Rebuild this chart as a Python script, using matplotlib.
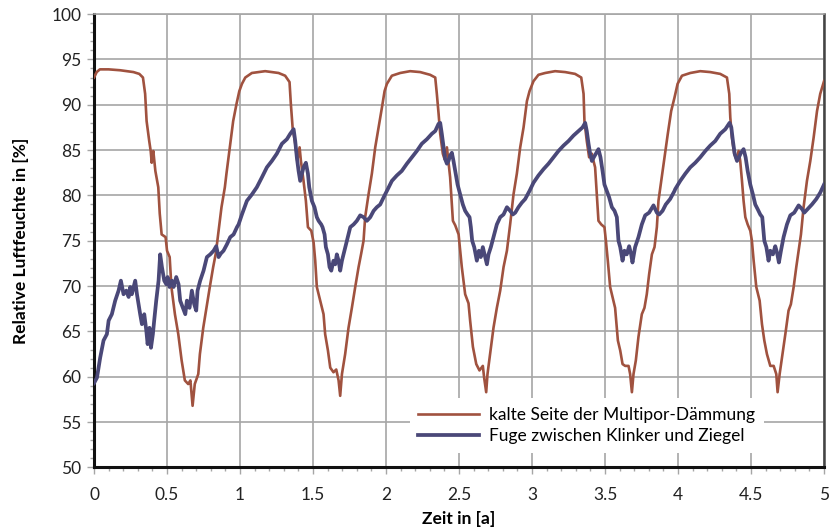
import matplotlib
matplotlib.use("Agg")
import matplotlib.pyplot as plt
from matplotlib.ticker import MultipleLocator

plt.rcParams['font.family'] = ['Lato', 'DejaVu Sans']

# Zeit in Jahren und relative Luftfeuchte [%] – kalte Seite der Multipor-Dämmung
zeit_kalt = [
    0.0, 0.018, 0.04, 0.1, 0.18, 0.27, 0.31, 0.335, 0.35, 0.36, 0.378, 0.388, 0.395, 0.40, 0.406,
    0.42, 0.44, 0.45, 0.463, 0.49, 0.50, 0.518, 0.53, 0.554, 0.577, 0.60, 0.622, 0.645, 0.66, 0.675,
    0.69, 0.714, 0.725, 0.748, 0.77, 0.793, 0.816, 0.834, 0.85, 0.873, 0.896, 0.907, 0.93, 0.953,
    0.976, 0.995,
    1.013, 1.036, 1.081, 1.172, 1.264, 1.309, 1.339, 1.348, 1.36, 1.378, 1.392, 1.408, 1.417, 1.435,
    1.451, 1.465, 1.488, 1.504, 1.515, 1.526, 1.549, 1.572, 1.583, 1.602, 1.618, 1.64, 1.659, 1.675,
    1.686, 1.698, 1.72, 1.743, 1.766, 1.789, 1.812, 1.83, 1.846, 1.857, 1.88, 1.903, 1.926, 1.949,
    1.972, 1.99,
    2.006, 2.04, 2.097, 2.165, 2.234, 2.302, 2.337, 2.348, 2.36, 2.371, 2.389, 2.401, 2.417, 2.439,
    2.458, 2.474, 2.497, 2.519, 2.542, 2.565, 2.576, 2.595, 2.618, 2.64, 2.663, 2.672, 2.686, 2.695,
    2.713, 2.736, 2.759, 2.782, 2.805, 2.828, 2.85, 2.873, 2.896, 2.919, 2.942, 2.965, 2.983,
    3.01, 3.044, 3.09, 3.158, 3.227, 3.295, 3.337, 3.353, 3.359, 3.375, 3.391, 3.41, 3.421, 3.432,
    3.444, 3.455, 3.474, 3.496, 3.506, 3.519, 3.535, 3.551, 3.569, 3.588, 3.604, 3.62, 3.638, 3.661,
    3.672, 3.684, 3.695, 3.711, 3.729, 3.752, 3.77, 3.786, 3.802, 3.821, 3.839, 3.855, 3.866, 3.885,
    3.907, 3.93, 3.953, 3.976,
    3.997, 4.027, 4.084, 4.152, 4.221, 4.289, 4.335, 4.351, 4.358, 4.369, 4.385, 4.399, 4.415, 4.426,
    4.438, 4.449, 4.461, 4.477, 4.495, 4.506, 4.518, 4.536, 4.559, 4.575, 4.591, 4.609, 4.632, 4.655,
    4.673, 4.682, 4.696, 4.712, 4.735, 4.757, 4.773, 4.792, 4.81, 4.826, 4.842, 4.86, 4.883, 4.906,
    4.929, 4.952, 4.974, 5.0,
]
rf_kalt = [
    93.0, 93.6, 93.9, 93.9, 93.8, 93.6, 93.4, 93.0, 91.2, 88.2, 86.0, 84.9, 83.6, 84.5, 84.9,
    82.7, 80.9, 78.0, 75.7, 75.4, 73.9, 73.2, 69.9, 66.9, 64.7, 61.8, 59.6, 59.2, 59.6, 56.8,
    59.2, 60.3, 62.5, 65.4, 67.6, 69.9, 72.1, 73.6, 75.7, 78.7, 80.9, 82.4, 85.3, 88.2,
    90.1, 91.5,
    92.3, 93.0, 93.5, 93.7, 93.5, 93.2, 92.5, 90.1, 87.5, 85.7, 83.8, 85.3, 83.8, 81.6,
    79.4, 76.5, 76.1, 74.8, 72.8, 69.9, 68.4, 66.9, 64.7, 62.9, 61.0, 60.5, 60.8, 59.6,
    57.9, 60.3, 62.5, 65.4, 67.6, 69.9, 72.1, 73.6, 75.0, 77.6, 80.1, 82.4, 85.3, 87.5,
    89.7, 91.5,
    92.3, 93.2, 93.5, 93.7, 93.6, 93.3, 93.0, 91.2, 89.0, 86.8, 84.6, 84.0, 85.3, 82.0,
    77.2, 76.7, 75.7, 72.1, 69.1, 68.1, 66.2, 63.3, 61.4, 60.7, 61.2, 59.9, 58.3, 60.3,
    62.5, 65.4, 67.6, 69.5, 72.1, 73.9, 76.8, 80.1, 82.4, 85.3, 87.5, 90.4, 91.5,
    92.6, 93.3, 93.5, 93.7, 93.6, 93.4, 93.0, 91.2, 88.2, 86.0, 84.2, 84.6, 83.8, 83.1,
    80.1, 77.2, 76.8, 76.5, 75.0, 72.8, 69.9, 68.8, 67.6, 64.0, 62.9, 61.4, 61.2, 61.2,
    60.3, 58.3, 60.3, 61.8, 64.4, 66.9, 67.6, 69.1, 71.3, 73.5, 74.3, 76.5, 79.4, 81.6,
    84.2, 86.8, 89.3, 90.8,
    92.3, 93.2, 93.5, 93.7, 93.6, 93.4, 93.0, 91.2, 88.6, 86.4, 84.6, 84.0, 84.9, 83.8,
    81.6, 79.4, 77.6, 76.8, 76.1, 75.0, 72.8, 69.9, 68.4, 65.8, 64.0, 62.5, 61.2, 61.2,
    60.3, 58.3, 60.3, 62.1, 64.7, 67.3, 68.0, 69.9, 72.1, 73.9, 75.7, 78.7, 81.6, 83.8,
    86.4, 89.3, 91.2, 92.6,
]

# Zeit in Jahren und relative Luftfeuchte [%] – Fuge zwischen Klinker und Ziegel
zeit_fuge = [
    0.0, 0.02, 0.042, 0.065, 0.088, 0.10, 0.122, 0.145, 0.168, 0.184, 0.202, 0.221, 0.237, 0.248,
    0.259, 0.282, 0.294, 0.316, 0.328, 0.344, 0.358, 0.367, 0.38, 0.39, 0.403, 0.412, 0.426, 0.442,
    0.453, 0.465, 0.481, 0.495, 0.504, 0.517, 0.533, 0.545, 0.563, 0.579, 0.590, 0.609, 0.625,
    0.636, 0.654, 0.67, 0.686, 0.7, 0.709, 0.727, 0.75, 0.773, 0.796, 0.819, 0.837, 0.853, 0.869,
    0.887, 0.91, 0.933, 0.956, 0.979,
    0.99, 1.013, 1.047, 1.081, 1.115, 1.15, 1.184, 1.218, 1.252, 1.287, 1.321, 1.344, 1.367, 1.378,
    1.389, 1.401, 1.412, 1.424, 1.435, 1.451, 1.465, 1.474, 1.492, 1.51, 1.526, 1.538, 1.556, 1.565,
    1.579, 1.588, 1.602, 1.613, 1.625, 1.64, 1.652, 1.663, 1.675, 1.686, 1.698, 1.709, 1.732, 1.755,
    1.778, 1.8, 1.823, 1.846, 1.869, 1.892, 1.915, 1.937, 1.96, 1.99,
    2.006, 2.04, 2.074, 2.108, 2.143, 2.177, 2.211, 2.245, 2.28, 2.314, 2.337, 2.36, 2.371, 2.382,
    2.394, 2.405, 2.417, 2.428, 2.439, 2.451, 2.462, 2.474, 2.49, 2.508, 2.526, 2.542, 2.558, 2.572,
    2.581, 2.59, 2.604, 2.622, 2.636, 2.649, 2.663, 2.679, 2.691, 2.702, 2.718, 2.736, 2.759, 2.782,
    2.805, 2.828, 2.85, 2.869, 2.885, 2.907, 2.93, 2.953, 2.983,
    3.01, 3.044, 3.079, 3.113, 3.147, 3.181, 3.216, 3.25, 3.284, 3.318, 3.346, 3.364, 3.375, 3.387,
    3.398, 3.41, 3.423, 3.437, 3.455, 3.469, 3.483, 3.496, 3.512, 3.528, 3.547, 3.565, 3.581, 3.592,
    3.604, 3.62, 3.633, 3.649, 3.665, 3.679, 3.688, 3.706, 3.729, 3.752, 3.775, 3.802, 3.832, 3.855,
    3.871, 3.894, 3.916, 3.946, 3.976,
    3.981, 4.015, 4.05, 4.084, 4.118, 4.152, 4.187, 4.221, 4.255, 4.289, 4.324, 4.353, 4.365, 4.376,
    4.388, 4.404, 4.417, 4.431, 4.449, 4.463, 4.477, 4.495, 4.513, 4.529, 4.545, 4.563, 4.577, 4.591,
    4.605, 4.62, 4.632, 4.65, 4.666, 4.678, 4.691, 4.705, 4.723, 4.746, 4.769, 4.796, 4.826, 4.849,
    4.865, 4.888, 4.917, 4.947, 4.974, 5.0,
]
rf_fuge = [
    59.3, 59.9, 62.1, 64.0, 64.7, 66.2, 66.9, 68.4, 69.5, 70.6, 69.1, 69.5, 68.8, 69.9,
    69.1, 70.6, 69.1, 66.9, 65.8, 66.9, 65.1, 63.6, 65.4, 63.2, 64.7, 66.2, 68.4, 70.6,
    73.5, 72.1, 70.6, 70.2, 71.0, 69.9, 70.6, 69.9, 71.0, 70.2, 68.4, 67.6, 66.9,
    68.4, 67.6, 69.5, 68.0, 67.3, 69.5, 70.6, 71.7, 73.2, 73.5, 73.9, 74.4, 73.2, 73.6,
    73.9, 74.6, 75.4, 75.7, 76.5,
    76.8, 77.9, 79.4, 80.1, 80.9, 82.0, 83.1, 83.8, 84.6, 85.7, 86.2, 86.8, 87.3, 86.0,
    84.2, 82.7, 81.6, 82.4, 83.1, 83.6, 82.4, 80.9, 79.4, 78.7, 77.6, 77.2, 76.8, 76.5,
    75.7, 74.3, 73.5, 72.1, 71.7, 72.8, 72.4, 73.5, 72.8, 71.7, 72.8, 73.5, 75.0, 76.5,
    76.8, 77.2, 77.8, 77.6, 77.2, 77.6, 78.3, 78.7, 79.0, 80.0,
    80.5, 81.6, 82.2, 82.7, 83.5, 84.2, 84.9, 85.7, 86.2, 86.8, 87.1, 87.9, 88.0, 86.8,
    85.3, 84.0, 83.5, 83.8, 84.4, 84.7, 83.8, 82.7, 81.2, 80.1, 79.0, 78.3, 77.9, 77.6,
    76.5, 75.0, 74.3, 72.8, 73.9, 73.2, 74.3, 73.2, 72.4, 73.5, 74.3, 75.4, 76.8, 77.6,
    77.9, 78.7, 78.3, 77.9, 78.1, 78.7, 79.2, 79.6, 80.5,
    81.4, 82.2, 82.9, 83.5, 84.2, 84.9, 85.5, 86.0, 86.6, 87.1, 87.5, 88.0, 87.1, 85.7,
    84.6, 83.8, 84.2, 84.6, 85.1, 84.2, 82.7, 81.2, 80.5, 79.8, 78.7, 78.3, 77.6, 75.0,
    74.3, 72.8, 73.9, 73.5, 74.4, 73.5, 72.6, 74.3, 75.4, 76.8, 77.8, 78.1, 78.9, 78.1,
    77.9, 78.3, 79.0, 79.6, 80.5,
    80.7, 81.6, 82.4, 83.1, 83.6, 84.2, 84.9, 85.5, 86.0, 86.8, 87.3, 88.0, 87.5, 86.0,
    84.6, 83.8, 84.2, 84.7, 85.1, 84.2, 82.7, 81.2, 80.1, 79.0, 78.5, 77.9, 77.6, 75.0,
    74.3, 72.8, 73.9, 73.5, 74.4, 73.7, 72.6, 73.9, 75.4, 76.8, 77.8, 78.1, 78.9, 78.5,
    78.1, 78.5, 79.0, 79.6, 80.3, 81.2,
]

legenden = ["kalte Seite der Multipor-Dämmung", "Fuge zwischen Klinker und Ziegel"]
farben = ["#A0523F", "#4A4878"]

fig = plt.figure(figsize=(8.3, 5.3), dpi=100)
ax = fig.add_axes([0.1133, 0.118, 0.8795, 0.8555])

ax.plot(zeit_kalt, rf_kalt, color=farben[0], lw=1.9, label=legenden[0], zorder=3,
        solid_joinstyle="round")
ax.plot(zeit_fuge, rf_fuge, color=farben[1], lw=2.7, label=legenden[1], zorder=4,
        solid_joinstyle="round")

ax.set_xlim(0, 5)
ax.set_ylim(50, 100)
ax.xaxis.set_major_locator(MultipleLocator(0.5))
ax.xaxis.set_minor_locator(MultipleLocator(0.1))
ax.yaxis.set_major_locator(MultipleLocator(5))
ax.yaxis.set_minor_locator(MultipleLocator(1))
ax.xaxis.set_major_formatter(plt.FuncFormatter(lambda v, p: f"{v:g}"))

ax.grid(True, which="major", color="#A6A6A6", lw=1.2, zorder=1)
ax.tick_params(which="major", length=5, width=1, color="#A6A6A6",
               labelsize=12.5, labelcolor="#222222")
ax.tick_params(axis="x", which="major", pad=9)
ax.tick_params(axis="y", which="major", pad=4)
ax.tick_params(which="minor", length=3, width=1, color="#A6A6A6")

for side in ("left", "bottom"):
    ax.spines[side].set_color("#111111")
    ax.spines[side].set_linewidth(2.2)
ax.spines["right"].set_color("#444444")
ax.spines["right"].set_linewidth(1.8)
ax.spines["top"].set_color("#A6A6A6")
ax.spines["top"].set_linewidth(1.2)

ax.set_xlabel("Zeit in [a]", fontsize=12.5, fontweight="bold", labelpad=6)
ax.set_ylabel("Relative Luftfeuchte in [%]", fontsize=12.5, fontweight="bold", labelpad=16)

leg = ax.legend(loc="center", bbox_to_anchor=(0.675, 0.092), frameon=True, fancybox=False,
                framealpha=1, edgecolor="none", facecolor="white", fontsize=12.5,
                handlelength=3.5, handletextpad=0.6, borderpad=0.5, labelspacing=0.3)
leg.set_zorder(5)

fig.savefig("out.png", dpi=100)
